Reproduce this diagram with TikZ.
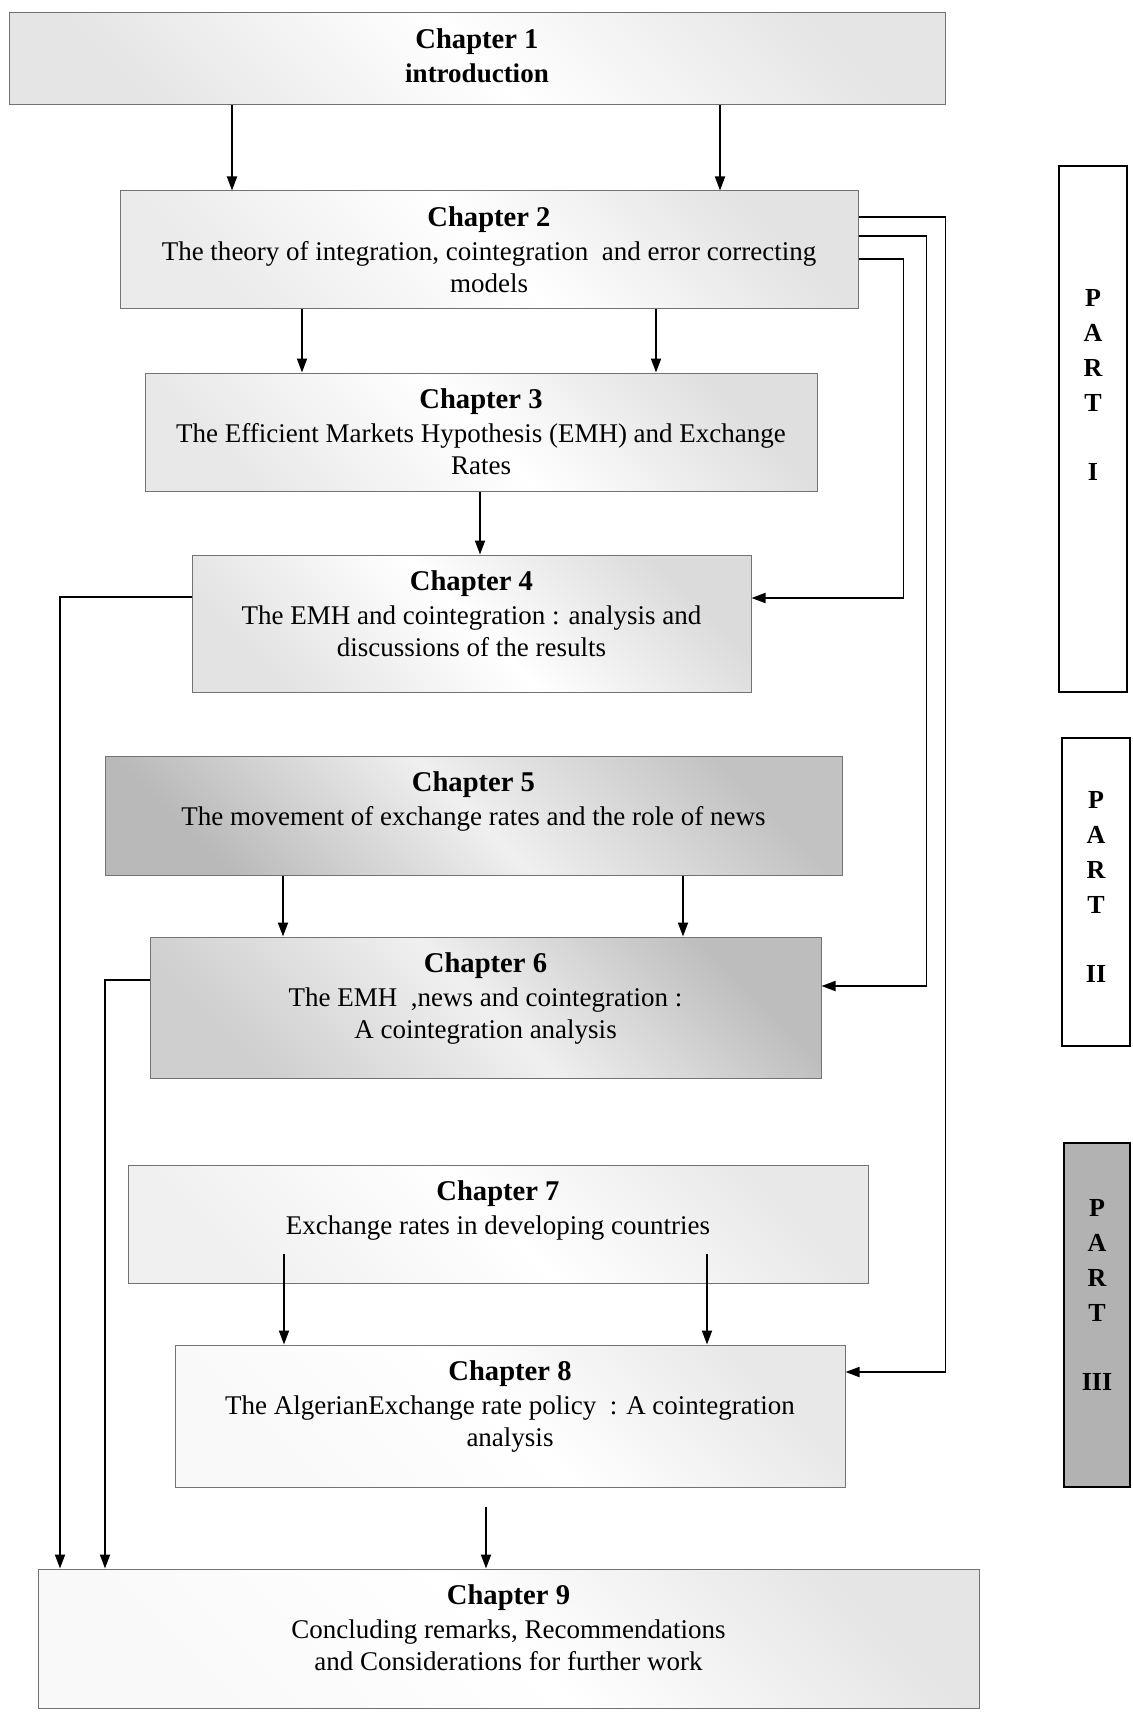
\documentclass[tikz,border=0pt]{standalone}
\usepackage{fontspec}
\setmainfont{Liberation Serif}
\usetikzlibrary{arrows.meta}

\newcommand{\chaptext}[4]{\parbox[c][#2][t]{#1}{\centering\vspace*{8pt}%
    {\fontsize{14.3}{16}\selectfont\bfseries #3}\\[1pt]#4}}
\newcommand{\parttext}[4]{\parbox[c][#2][t]{#1}{\centering\vspace*{#3}%
    \fontsize{13}{17.5}\selectfont\bfseries P\\A\\R\\T\\[17pt]#4}}

\begin{document}
\begin{tikzpicture}[x=0.5pt,y=-0.5pt]
    \tikzstyle{chapbox}=[rectangle, draw=black!55, line width=0.5pt, inner sep=0pt, font=\fontsize{13.5}{16}\selectfont]
    \tikzstyle{partbox}=[rectangle, draw=black, line width=0.8pt, inner sep=0pt]
    \tikzstyle{arr}=[draw=black, line width=0.9pt, -{Triangle[length=7pt,width=5pt]}]
    \tikzset{tone/.style n args={3}{left color=gray!#1, right color=gray!#3, middle color=gray!#2, shading angle=135}}

    \useasboundingbox (0,0) rectangle (1132,1712);

    \node[chapbox, tone={20}{0}{20}] (ch1) at (477,59) {\chaptext{468pt}{46pt}{Chapter 1}{\textbf{introduction}}};
    \node[chapbox, tone={16}{0}{22}] (ch2) at (489,249.5) {\chaptext{369pt}{58.5pt}{Chapter 2}{The theory of integration, cointegration\ \ and error correcting\\models}};
    \node[chapbox, tone={18}{0}{25}] (ch3) at (481,432) {\chaptext{336pt}{59pt}{Chapter 3}{The Efficient Markets Hypothesis (EMH) and Exchange\\Rates}};
    \node[chapbox, tone={22}{0}{28}] (ch4) at (471.5,623.5) {\chaptext{279.5pt}{68.5pt}{Chapter 4}{The EMH and cointegration : analysis and\\discussions of the results}};
    \node[chapbox, tone={55}{12}{48}] (ch5) at (473.5,815.5) {\chaptext{368.5pt}{59.5pt}{Chapter 5}{The movement of exchange rates and the role of news}};
    \node[chapbox, tone={38}{12}{52}] (ch6) at (485.5,1007.5) {\chaptext{335.5pt}{70.5pt}{Chapter 6}{The EMH\ \ ,news and cointegration :\\A cointegration analysis}};
    \node[chapbox, tone={12}{0}{18}] (ch7) at (498,1224) {\chaptext{370pt}{59pt}{Chapter 7}{Exchange rates in developing countries}};
    \node[chapbox, tone={5}{0}{18}] (ch8) at (510,1416) {\chaptext{335pt}{71pt}{Chapter 8}{The AlgerianExchange rate policy\ \ : A cointegration\\analysis}};
    \node[chapbox, tone={5}{0}{20}] (ch9) at (508.5,1638.5) {\chaptext{470.5pt}{69.5pt}{Chapter 9}{Concluding remarks, Recommendations\\and Considerations for further work}};

    \node[partbox] (part1) at (1093,429) {\parttext{34pt}{263pt}{61.7pt}{I}};
    \node[partbox] (part2) at (1096,892) {\parttext{34pt}{154pt}{26.7pt}{II}};
    \node[partbox, fill=gray!60] (part3) at (1097,1315) {\parttext{33pt}{172pt}{28.2pt}{III}};

    \draw[arr] (ch1.south -| 232,0) -- (ch2.north -| 232,0);
    \draw[arr] (ch1.south -| 720,0) -- (ch2.north -| 720,0);
    \draw[arr] (ch2.south -| 302,0) -- (ch3.north -| 302,0);
    \draw[arr] (ch2.south -| 656,0) -- (ch3.north -| 656,0);
    \draw[arr] (ch3.south -| 480,0) -- (ch4.north -| 480,0);
    \draw[arr] (ch5.south -| 283,0) -- (ch6.north -| 283,0);
    \draw[arr] (ch5.south -| 683,0) -- (ch6.north -| 683,0);
    \draw[arr] (ch7.south -| 284,0) ++(0,-30) -- (ch8.north -| 284,0);
    \draw[arr] (ch7.south -| 707,0) ++(0,-30) -- (ch8.north -| 707,0);
    \draw[arr] (ch8.south -| 486,0) ++(0,19) -- (ch9.north -| 486,0);

    \draw[arr] (ch2.east |- 0,217) -- ++(87,0) |- (ch8.east |- 0,1372);
    \draw[arr] (ch2.east |- 0,236) -- ++(68,0) |- (ch6.east |- 0,986);
    \draw[arr] (ch2.east |- 0,259) -- ++(45,0) |- (ch4.east |- 0,598);

    \draw[arr] (ch4.west |- 0,597) -| (ch9.north -| 60,0);
    \draw[arr] (ch6.west |- 0,980) -| (ch9.north -| 105,0);
\end{tikzpicture}
\end{document}
